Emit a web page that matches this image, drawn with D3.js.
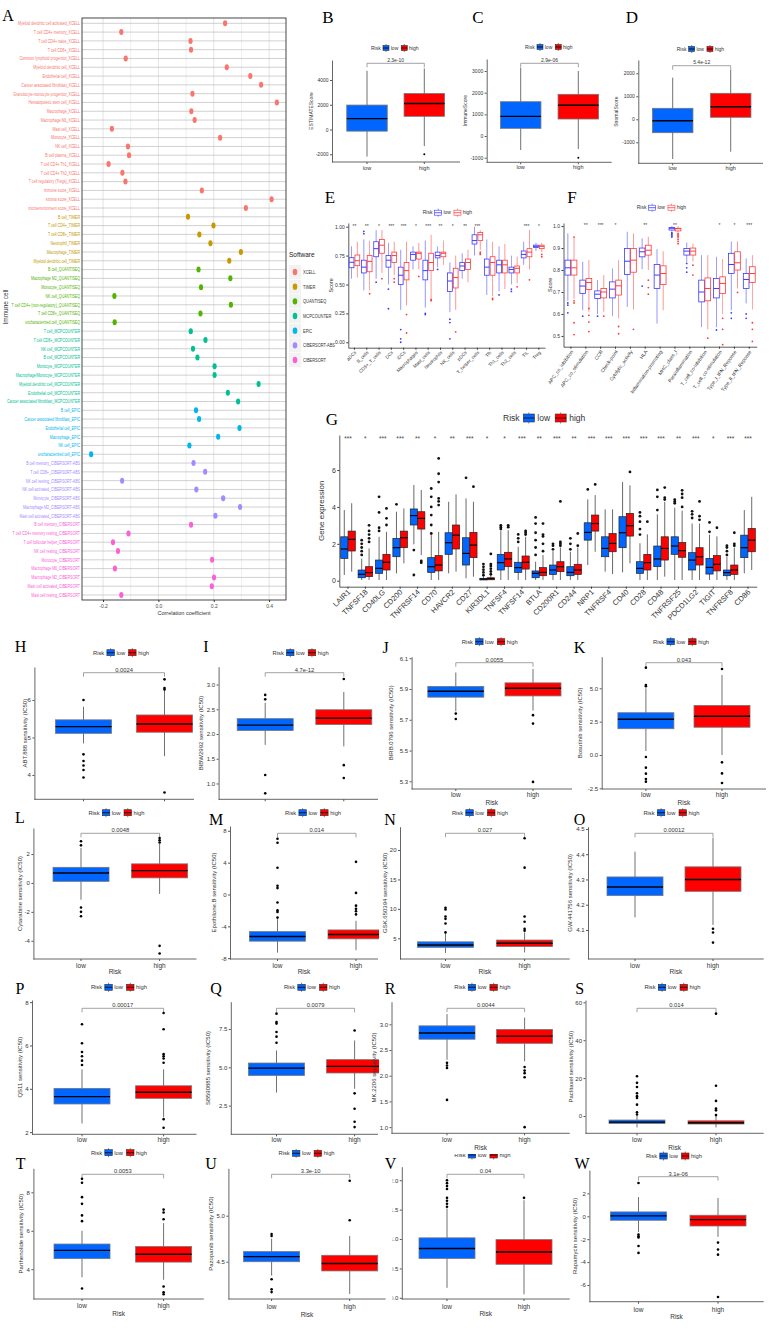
<!DOCTYPE html>
<html><head><meta charset="utf-8">
<script src="https://cdn.jsdelivr.net/npm/d3@7"></script>
<style>body{margin:0;background:#fff} svg{display:block;font-family:"Liberation Sans",Arial,sans-serif}</style>
</head><body><div id="chart"></div>
<script>
// ---------- panel A data ----------
const softwares = ["XCELL","TIMER","QUANTISEQ","MCPCOUNTER","EPIC","CIBERSORT-ABS","CIBERSORT"];
const softColors = ["#F8766D","#C49A00","#53B400","#00C094","#00B6EB","#A58AFF","#FB61D7"];
const cellNames = [
"Myeloid dendritic cell activated_XCELL","T cell CD4+ memory_XCELL","T cell CD4+ naive_XCELL","T cell CD8+_XCELL",
"Common lymphoid progenitor_XCELL","Myeloid dendritic cell_XCELL","Endothelial cell_XCELL","Cancer associated fibroblast_XCELL",
"Granulocyte-monocyte progenitor_XCELL","Hematopoietic stem cell_XCELL","Macrophage_XCELL","Macrophage M1_XCELL",
"Mast cell_XCELL","Monocyte_XCELL","NK cell_XCELL","B cell plasma_XCELL","T cell CD4+ Th1_XCELL","T cell CD4+ Th2_XCELL",
"T cell regulatory (Tregs)_XCELL","immune score_XCELL","stroma score_XCELL","microenvironment score_XCELL",
"B cell_TIMER","T cell CD4+_TIMER","T cell CD8+_TIMER","Neutrophil_TIMER","Macrophage_TIMER","Myeloid dendritic cell_TIMER",
"B cell_QUANTISEQ","Macrophage M2_QUANTISEQ","Monocyte_QUANTISEQ","NK cell_QUANTISEQ","T cell CD4+ (non-regulatory)_QUANTISEQ",
"T cell CD8+_QUANTISEQ","uncharacterized cell_QUANTISEQ",
"T cell_MCPCOUNTER","T cell CD8+_MCPCOUNTER","NK cell_MCPCOUNTER","B cell_MCPCOUNTER","Monocyte_MCPCOUNTER",
"Macrophage/Monocyte_MCPCOUNTER","Myeloid dendritic cell_MCPCOUNTER","Endothelial cell_MCPCOUNTER","Cancer associated fibroblast_MCPCOUNTER",
"B cell_EPIC","Cancer associated fibroblast_EPIC","Endothelial cell_EPIC","Macrophage_EPIC","NK cell_EPIC","uncharacterized cell_EPIC",
"B cell memory_CIBERSORT-ABS","T cell CD8+_CIBERSORT-ABS","NK cell resting_CIBERSORT-ABS","NK cell activated_CIBERSORT-ABS",
"Monocyte_CIBERSORT-ABS","Macrophage M2_CIBERSORT-ABS","Mast cell activated_CIBERSORT-ABS",
"B cell memory_CIBERSORT","T cell CD4+ memory resting_CIBERSORT","T cell follicular helper_CIBERSORT","NK cell resting_CIBERSORT",
"Monocyte_CIBERSORT","Macrophage M0_CIBERSORT","Macrophage M2_CIBERSORT","Mast cell activated_CIBERSORT","Mast cell resting_CIBERSORT"];
const cellCor = [0.241,-0.134,0.116,0.118,-0.118,0.247,0.332,0.371,0.123,0.428,0.119,0.131,-0.168,0.223,-0.110,-0.106,
-0.180,-0.130,-0.119,0.157,0.409,0.316,
0.107,0.199,0.148,0.188,0.298,0.256,
0.145,0.260,0.154,-0.159,0.262,0.152,-0.158,
0.117,0.170,0.125,0.141,0.203,0.203,0.362,0.251,0.288,
0.136,0.147,0.293,0.216,0.112,-0.243,
0.127,0.169,-0.131,0.137,0.234,0.295,0.206,
0.118,-0.108,-0.164,-0.146,0.194,-0.157,0.201,0.193,-0.134];
const corTicks = [-0.2,0,0.2,0.4];

// ---------- panels B-D ----------
const scoreTitles = ["ESTIMATEScore","ImmuneScore","StromalScore"];
const scoreP = ["2.3e-10","2.9e-06","5.4e-12"];
const scoreLow = [[-2184,-130,880,1976,4744],[-646,355,909,1583,3152],[-1726,-583,-61,478,1809]];
const scoreHigh = [[-1333,1067,2107,2907,4933],[-600,785,1417,1924,3000],[-1409,87,548,1130,2152]];
const scoreLowOut = [[],[],[]];
const scoreHighOut = [[-2000],[-1000],[]];
const scoreLimits = [[-2622,5615],[-1212,3554],[-1913,2578]];
const scoreTicks = [[-2000,0,2000,4000],[-1000,0,1000,2000,3000],[-1000,0,1000,2000]];

// ---------- panel E ----------
const eCats = ["aDCs","B_cells","CD8+_T_cells","DCs","iDCs","Macrophages","Mast_cells","Neutrophils","NK_cells","pDCs","T_helper_cells","Tfh","Th1_cells","Th2_cells","TIL","Treg"];
const eStars = ["**","**","*","***","***","*","***","**","*","**","***","","","","***","*"];
const eLow = [[0.55,0.645,0.692,0.732,0.83],[0.45,0.60,0.65,0.71,0.89],[0.55,0.74,0.81,0.87,0.97],[0.50,0.65,0.71,0.75,0.86],
[0.28,0.50,0.58,0.65,0.80],[0.63,0.71,0.76,0.78,0.83],[0.30,0.54,0.62,0.71,0.88],[0.65,0.73,0.75,0.78,0.83],
[0.26,0.44,0.53,0.60,0.69],[0.55,0.62,0.66,0.69,0.77],[0.75,0.85,0.88,0.93,1.00],[0.41,0.58,0.65,0.72,0.89],
[0.44,0.60,0.67,0.71,0.83],[0.50,0.60,0.63,0.65,0.75],[0.67,0.73,0.76,0.79,0.87],[0.79,0.82,0.83,0.84,0.86]];
const eLowOut = [[],[0.96,0.94],[0.52],[0.46,0.29],[0.11,0.03,0.0],[],[0.25,0.24],[0.63],[0.20,0.17,0.03],[],[],[],[0.41],[0.46,0.44],[],[]];
const eHigh = [[0.56,0.663,0.706,0.755,0.87],[0.45,0.61,0.70,0.75,0.88],[0.60,0.77,0.84,0.89,0.97],[0.58,0.69,0.75,0.78,0.87],
[0.32,0.54,0.62,0.69,0.87],[0.63,0.72,0.77,0.78,0.86],[0.38,0.62,0.69,0.77,0.93],[0.67,0.74,0.77,0.78,0.88],
[0.28,0.47,0.56,0.64,0.75],[0.52,0.63,0.69,0.72,0.80],[0.80,0.88,0.93,0.95,0.97],[0.40,0.58,0.69,0.74,0.87],
[0.46,0.60,0.67,0.71,0.85],[0.51,0.60,0.64,0.66,0.74],[0.63,0.74,0.78,0.81,0.97],[0.78,0.81,0.83,0.84,0.86]];
const eHighOut = [[],[0.42],[0.55],[0.55,0.52],[0.24,0.08],[0.57],[0.37,0.36],[],[0.09],[],[0.78,0.76,0.77],[0.38,0.37],[],[0.48],[0.54],[0.76,0.74]];

// ---------- panel F ----------
const fCats = ["APC_co_inhibition","APC_co_stimulation","CCR","Check-point","Cytolytic_activity","HLA","Inflammation-promoting","MHC_class_I","Parainflammation","T_cell_co-inhibition","T_cell_co-stimulation","Type_I_IFN_Reponse","Type_II_IFN_Reponse"];
const fStars = ["","**","***","*","","**","","**","","","*","*","***"];
const fLow = [[0.66,0.777,0.81,0.845,0.967],[0.617,0.693,0.727,0.754,0.837],[0.60,0.67,0.69,0.705,0.754],[0.59,0.673,0.713,0.746,0.807],
[0.632,0.78,0.84,0.898,0.974],[0.804,0.86,0.883,0.90,0.944],[0.556,0.716,0.777,0.825,0.895],[0.975,0.982,0.99,0.993,1.0],
[0.837,0.868,0.886,0.898,0.925],[0.54,0.655,0.70,0.754,0.868],[0.54,0.673,0.716,0.761,0.86],[0.617,0.784,0.825,0.876,0.93],
[0.648,0.716,0.757,0.784,0.853]];
const fLowOut = [[0.65,0.64,0.605],[0.59],[0.59],[],[],[0.727],[],[0.97,0.965,0.96,0.955,0.95],[0.83,0.81,0.79],[],[0.527],[0.605,0.58],[0.60,0.58]];
const fHigh = [[0.67,0.777,0.81,0.845,0.947],[0.61,0.711,0.743,0.761,0.845],[0.61,0.673,0.70,0.716,0.777],[0.58,0.686,0.728,0.754,0.845],
[0.62,0.79,0.845,0.898,0.967],[0.80,0.868,0.89,0.913,0.951],[0.617,0.734,0.784,0.819,0.885],[0.97,0.978,0.988,0.99,1.0],
[0.84,0.868,0.886,0.90,0.92],[0.53,0.66,0.716,0.764,0.868],[0.60,0.693,0.739,0.769,0.85],[0.716,0.80,0.833,0.883,0.93],
[0.62,0.743,0.784,0.815,0.868]];
const fHighOut = [[0.95,0.66,0.65,0.56,0.506],[0.625,0.594,0.563,0.52],[0.59],[0.543,0.51],[0.53],[0.754,0.72,0.69],[],[0.965,0.96,0.955,0.95,0.94,0.93,0.92],[0.822,0.777],[0.49],[0.58,0.53,0.46],[0.698],[0.56,0.53,0.475]];

// ---------- panel G ----------
const gCats = ["LAIR1","TNFSF18","CD40LG","CD200","TNFRSF14","CD70","HAVCR2","CD27","KIR3DL1","TNFSF4","TNFSF14","BTLA","CD200R1","CD244","NRP1","TNFRSF4","CD40","CD28","CD48","TNFRSF25","PDCD1LG2","TIGIT","TNFRSF8","CD86"];
const gStars = ["***","*","***","***","**","*","**","***","*","*","***","**","***","**","***","***","***","***","***","**","***","*","***","***"];
const gLow = [[0.31,1.21,1.72,2.38,3.83],[0.04,0.16,0.35,0.58,1.2],[0.04,0.40,0.67,1.12,2.38],[0.40,1.30,1.79,2.29,3.74],
[1.97,3.02,3.53,3.89,5.19],[0.04,0.45,0.76,1.25,2.47],[0.40,1.43,2.06,2.60,4.28],[0.13,0.85,1.48,2.33,4.46],
[0.04,0.04,0.09,0.13,0.25],[0.04,0.58,0.98,1.43,2.69],[0.04,0.45,0.71,1.00,1.84],[0.04,0.16,0.40,0.53,1.03],
[0.04,0.34,0.58,0.85,1.6],[0.04,0.27,0.45,0.76,1.57],[0.85,2.20,2.62,3.14,4.41],[0.49,1.30,1.75,2.38,3.87],
[0.45,1.79,2.60,3.47,5.35],[0.04,0.40,0.67,1.03,2.03],[0.04,0.76,1.18,1.88,3.60],[0.04,1.43,1.88,2.38,3.96],
[0.04,0.58,1.12,1.52,3.1],[0.04,0.36,0.72,1.21,2.5],[0.04,0.27,0.44,0.58,1.3],[0.40,1.25,1.79,2.47,3.83]];
const gLowOut = [[],[1.4,1.6,1.8,2.0,2.2],[2.7,2.87,3.7,4.55],[4.14],[1.66,0.31],[2.56,3.02,3.56,4.0,4.55,5.0],[],[5.58],
[0.3,0.45,0.6,0.75,0.9],[2.8,2.9,3.0],[2.1,2.3,2.51],[1.4,1.8,2.2,2.6,3.1,3.43],[1.7,1.9,2.0],[1.7,2.0,2.3],[4.95],[],[],
[2.5,2.8,3.2,3.5,3.7],[3.83,4.55,4.92],[4.2,4.3,4.4],[3.4,3.6,3.76],[2.65,3.16],[1.4,1.6,1.8,1.9],[]];
const gHigh = [[0.49,1.61,2.24,2.69,4.2],[0.04,0.22,0.44,0.76,1.75],[0.04,0.58,1.0,1.43,2.65],[0.94,1.79,2.33,2.69,3.92],
[1.39,2.80,3.38,3.74,4.92],[0.04,0.53,0.85,1.36,2.65],[0.49,1.72,2.47,3.02,4.68],[0.22,1.25,1.93,2.62,4.28],
[0.04,0.05,0.11,0.16,0.3],[0.04,0.76,1.18,1.54,2.74],[0.04,0.63,1.0,1.34,2.38],[0.04,0.27,0.45,0.71,1.39],
[0.04,0.49,0.76,1.03,1.8],[0.04,0.34,0.58,0.89,1.8],[1.57,2.69,3.10,3.56,4.64],[0.36,1.57,2.02,2.56,3.87],
[0.94,2.42,2.98,3.65,5.17],[0.04,0.58,0.98,1.43,2.51],[0.22,1.12,1.75,2.38,4.28],[0.04,1.27,1.63,2.07,3.8],
[0.04,0.85,1.30,1.79,3.1],[0.04,0.53,0.89,1.36,2.4],[0.04,0.34,0.58,0.85,1.8],[0.58,1.57,2.20,2.83,4.55]];
const gHighOut = [[],[2.1,2.3,2.5,2.7,3.0],[3.02,3.38,3.92],[],[1.07,0.98],[4.1,4.3,4.46,5.35,5.8,6.63],[],[5.1],
[0.35,0.5,0.65,0.8,0.9,1.45],[2.9,3.0],[2.5,2.6,2.7],[1.6,2.0,2.4,2.5,3.1],[1.9,2.0,2.1,4.3],[1.9,2.56],[5.22],[],[5.9],[3.2],
[4.4,4.5,5.05],[4.0,4.5,4.7,4.9],[3.3,3.5,4.3],[2.87],[1.9,2.0,2.6],[]];

// ---------- panels H-W (drug sensitivity) ----------
const drugTitles = ["ABT.888","BIBW2992","BIRB.0796","Bosutinib","Cytarabine","Epothilone.B","GSK.650394","GW.441756",
"QS11","SB590885","MK.2206","Paclitaxel","Parthenolide","Pazopanib","","Rapamycin"];
const drugP = ["0.0024","4.7e-12","0.0055","0.043","0.0048","0.014","0.027","0.00012","0.00017","0.0079","0.0044","0.014","0.0053","3.3e-10","0.04","3.1e-06"];
const drugLow = [[4.84,5.11,5.29,5.47,5.82],[1.78,2.07,2.18,2.31,2.63],[5.755,5.847,5.885,5.917,6.007],[0.3,1.97,2.68,3.17,5.0],
[-1.16,0.11,0.69,1.08,2.42],[-7.3,-5.86,-5.28,-4.66,-3.1],[2.5,3.46,3.86,4.4,5.85],[4.15,4.236,4.27,4.31,4.41],
[2.4,3.3,3.64,4.02,4.9],[3.35,4.47,4.95,5.28,6.1],[2.31,2.71,2.83,2.97,3.2],[-6,-3.9,-3.2,-2.1,0],
[3.58,4.55,4.98,5.31,6.0],[4.35,4.5,4.555,4.61,4.75],[0.17,0.67,0.84,1.02,1.52],[-1.37,-0.35,0.03,0.38,1.68]];
const drugLowOut = [[6.0,4.55,4.37,4.25,4.13,3.93],[2.79,2.70,1.17,0.8],[5.74,5.705],[6.55,5.25,5.15,-0.15,-0.95,-1.4,-1.8,-2.0],
[2.88,2.6,-1.7,-2.0,-2.3],[7.0,6.5,3.35,1.1,0.8,-1.0,-2.0,-2.2,-2.9],[10.2,9.9,8.7,8.3,7.5,6.0],[],
[6.98,6.1,5.7,5.5,5.3,5.1],[8.5,7.95,7.85,7.3,7.0,6.6],[2.25,2.2,2.15,1.53],[21,17.5,15.3,12,10.5,9.5,6,2,0.8],
[8.7,8.5,7.75,7.4,6.8,6.5,3.0],[4.8,4.78,4.31,4.2,4.17],[2.0,1.95,1.9,1.85,1.7,1.65,1.6,1.55],[2.9,-1.6,-1.75,-1.85,-2.6,-3.2]];
const drugHigh = [[4.5,5.14,5.36,5.6,6.3],[1.75,2.19,2.32,2.49,2.85],[5.76,5.855,5.905,5.94,6.03],[0.0,2.08,2.9,3.72,6.0],
[-0.76,0.35,0.85,1.32,2.7],[-7.0,-5.57,-5.03,-4.45,-3.3],[2.6,3.6,4.15,4.7,6.0],[4.12,4.253,4.30,4.35,4.465],
[2.7,3.56,3.84,4.14,4.9],[3.6,4.63,5.06,5.5,6.75],[2.28,2.63,2.77,2.9,3.13],[-6,-4.2,-3.5,-2.5,0],
[3.45,4.37,4.78,5.18,6.4],[4.15,4.4,4.48,4.57,4.78],[0.06,0.57,0.78,0.99,1.66],[-1.8,-0.85,-0.29,0.09,1.6]];
const drugHighOut = [[6.55,6.32,6.28,3.53],[3.11,1.37,1.11],[5.73,5.675,5.296],[6.45,-0.55,-1.38,-2.1],
[3.1,2.95,2.8,-4.35,-4.88],[4.1,0.2,-1.4,-1.8,-2.1,-2.5],[22,17,8.7,7.8,6.6,6.3],[4.105,4.09,4.05],
[7.5,6.75,5.6,5.5,5.4,5.2,2.6,2.2],[7.4,3.3,2.3,1.45,1.1],[2.17,2.1,2.05,1.97,1.0],[54,16,8,4,3,0.5],
[7.1,6.95,6.6,3.1,2.8,2.7],[5.38,4.95],[1.7],[-2.3,-2.9,-3.35,-7.05]];
const drugLimits = [[3.35,6.88],[0.68,3.36],[5.25,6.11],[-2.55,7.37],[-5.26,3.8],[-8.1,8.6],[1.48,23.96],[3.985,4.509],
[1.9,8.1],[0.63,9.28],[0.88,3.44],[-9.1,61.2],[2.45,9.25],[4.095,5.515],[-0.02,2.23],[-7.46,4.04]];
const drugTicks = [[4,5,6],[1.0,1.5,2.0,2.5,3.0],[5.3,5.5,5.7,5.9,6.1],[-2.5,0,2.5,5.0],[-4,-2,0,2],[-8,-4,0,4,8],[5,10,15,20],
[4.1,4.2,4.3,4.4,4.5],[2,4,6,8],[2.5,5.0,7.5],[1.0,1.5,2.0,2.5,3.0],[0,20,40,60],[4,6,8],[4.5,5.0],[0,0.5,1.0,1.5,2.0],[-6,-4,-2,0,2]];

// layout: letter, letterX, letterY, legendX, legendY, axisX, right, top, bottom, lowX, highX, titleX, bracketY, xlabY, riskY
const scoreLayout = [
 ["B",328,17.5,371,48,332,460,60,162,367,424.3,311.7,63.3,167.7,null],
 ["C",478,17.5,525,47,486.7,611.7,59,162.3,520.7,578.3,465,63.3,167,null],
 ["D",632,17.5,676.7,49,638.3,763,60,163.3,672.7,730.7,616.7,65.7,168.3,null]];
const drugLayout = [
 ["H",20.6,646,93,652.7,34.4,194,667,799.3,83.5,164.5,24.6,672.7,null,null],
 ["I",206,646,272.6,652.7,218.6,378,666.7,799.3,265.2,343.8,201.4,672.7,null,null],
 ["J",385.6,647,461.7,641.7,411.6,572,656.7,789,455.8,533,390.5,662.7,794.3,802.3],
 ["K",579.6,647,653,641.7,601.7,766,656.7,789,645.9,722,579.6,662.7,794.3,802.3],
 ["L",20,817,88.4,812.7,33.4,196.5,828,959,81,159.6,19.6,833.3,965.7,971.7],
 ["M",216,819,285,812.7,230,378,826,959,277.5,356,213.7,833.3,965.7,971.7],
 ["N",390,819,451.9,812.7,400,569.7,826.7,959,445.5,524.6,385,833.3,965.7,971.7],
 ["O",579.6,819,643.4,812.7,588,763.7,826.7,959,635,713,570,833.3,965.7,971.7],
 ["P",20,988,90.9,987.3,32,196.5,1000,1134.3,82,163.6,19.6,1008.3,1140,null],
 ["Q",216,988,283.9,987.3,230.8,378,1001.7,1134.3,276.5,354.6,207.8,1008.3,1140,null],
 ["R",390,988,454.3,987.3,391.5,569.7,1001.7,1133.3,447,524.6,374,1008.3,1140,1147.3],
 ["S",579.6,988,644.4,987.3,585.5,763.7,1000,1133.3,637,716,571,1008.3,1140,1147.3],
 ["T",20.6,1163,90.9,1152.7,33.4,203.8,1168.3,1299,82,163.6,20.6,1174.3,1305.7,1313.3],
 ["U",211,1163,278.5,1153.3,228.4,385.6,1168.3,1299,271.6,349.7,211,1174.3,1306.7,1314.3],
 ["V",390.5,1163,454.3,1155,401.8,569.7,1166.7,1299,447,524,null,1174.3,1306.7,1314],
 ["W",582,1163,645.9,1156,589.4,763.7,1170,1301.7,638.5,718,574.7,1176.7,1310,1316.7]];

const LOW = "#0066FF", HIGH = "#FF0000";
const LOW_LINE = "#3B3BFF", HIGH_LINE = "#FF3B3B";

const svg = d3.select("#chart").append("svg").attr("width",769).attr("height",1329);
svg.append("rect").attr("width",769).attr("height",1329).attr("fill","#fff");
const defs = svg.append("defs");
let clipId = 0;
function clip(x, y, w, h) {
  const id = "clip" + (clipId++);
  defs.append("clipPath").attr("id", id).append("rect").attr("x",x).attr("y",y).attr("width",w).attr("height",h);
  return `url(#${id})`;
}

function txt(g, x, y, s, fs, o = {}) {
  const t = g.append("text").attr("x",x).attr("y",y).attr("dy","0.35em").attr("font-size",fs)
    .attr("fill",o.fill || "#333").attr("text-anchor",o.anchor || "start").text(s);
  if (o.rot) t.attr("transform",`rotate(${o.rot},${x},${y})`);
  if (o.family) t.attr("font-family",o.family);
  return t;
}
function letter(x, y, s, fs) { txt(svg, x, y, s, fs || 16, {anchor:"middle", fill:"#000", family:"'Liberation Serif','DejaVu Serif',serif"}); }

function legendKey(g, x, y, w, h, col, mode) {
  const fill = mode === "fill";
  g.append("line").attr("x1",x+w/2).attr("x2",x+w/2).attr("y1",y-h/2-1.5).attr("y2",y+h/2+1.5)
    .attr("stroke",fill ? "#333" : col).attr("stroke-width",0.6);
  g.append("rect").attr("x",x).attr("y",y-h/2).attr("width",w).attr("height",h)
    .attr("fill",fill ? col : "#fff").attr("stroke",fill ? "#333" : col).attr("stroke-width",0.6);
  g.append("line").attr("x1",x).attr("x2",x+w).attr("y1",y).attr("y2",y)
    .attr("stroke",fill ? "#000" : col).attr("stroke-width",0.8);
}
function riskLegend(g, x, y, fs, kw, kh, mode) {
  let cx = x;
  const t = txt(g, cx, y, "Risk", fs);
  cx += t.node().getComputedTextLength() + fs * 0.45;
  [["low", LOW, LOW_LINE], ["high", HIGH, HIGH_LINE]].forEach(([n, c, cl]) => {
    legendKey(g, cx, y, kw, kh, mode === "fill" ? c : cl, mode);
    cx += kw + fs * 0.35;
    const tt = txt(g, cx, y, n, fs);
    cx += tt.node().getComputedTextLength() + fs * 0.6;
  });
}
function drawBox(g, xc, w, s, y, st) {
  g.append("line").attr("x1",xc).attr("x2",xc).attr("y1",y(s[0])).attr("y2",y(s[4]))
    .attr("stroke",st.whisker).attr("stroke-width",st.ww).attr("opacity",st.wo || 1);
  g.append("rect").attr("x",xc-w/2).attr("y",y(s[3])).attr("width",w).attr("height",Math.max(0.6,y(s[1])-y(s[3])))
    .attr("fill",st.fill).attr("stroke",st.stroke).attr("stroke-width",st.sw);
  g.append("line").attr("x1",xc-w/2).attr("x2",xc+w/2).attr("y1",y(s[2])).attr("y2",y(s[2]))
    .attr("stroke",st.median).attr("stroke-width",st.mw);
}
function dots(g, xc, vals, y, r, col) {
  g.append("g").selectAll("circle").data(vals).join("circle")
    .attr("cx",xc).attr("cy",d => y(d)).attr("r",r).attr("fill",col);
}

// ================= Panel A =================
const colorOf = name => softColors[softwares.indexOf(name.split("_").pop())];
const gA = svg.append("g");
const xA = d3.scaleLinear().domain([-0.276,0.461]).range([82,286]);
const yA = d3.scalePoint().domain(d3.range(cellNames.length)).range([23.3,595]);
gA.selectAll(".vg").data(d3.range(-2,5).map(d => d/10)).join("line")
  .attr("x1",d => xA(d)).attr("x2",d => xA(d)).attr("y1",18).attr("y2",600)
  .attr("stroke",(d,i) => i % 2 === 0 ? "#D0D0D0" : "#E4E4E4").attr("stroke-width",0.6);
gA.selectAll(".hg").data(d3.range(cellNames.length)).join("line")
  .attr("x1",82).attr("x2",286).attr("y1",i => yA(i)).attr("y2",i => yA(i))
  .attr("stroke","#BDBDBD").attr("stroke-width",0.7);
gA.append("rect").attr("x",82).attr("y",18).attr("width",204).attr("height",582)
  .attr("fill","none").attr("stroke","#333").attr("stroke-width",0.9);
gA.selectAll("ellipse").data(cellCor).join("ellipse")
  .attr("cx",d => xA(d)).attr("cy",(d,i) => yA(i)).attr("rx",2.1).attr("ry",3)
  .attr("fill",(d,i) => colorOf(cellNames[i]));
const labA = gA.append("g").attr("transform","translate(80,0) scale(0.68,1)");
labA.selectAll("text").data(cellNames).join("text")
  .attr("x",0).attr("y",(d,i) => yA(i)).attr("dy","0.35em").attr("text-anchor","end")
  .attr("font-size",5.3).attr("fill",d => colorOf(d)).text(d => d);
const axA = gA.append("g").attr("transform","translate(0,600)")
  .call(d3.axisBottom(xA).tickValues(corTicks).tickFormat(d => d.toFixed(1)).tickSize(2).tickSizeOuter(0));
axA.attr("font-family",null).attr("font-size",5);
axA.select(".domain").remove();
axA.selectAll(".tick line").attr("stroke","#333");
axA.selectAll(".tick text").attr("fill","#4D4D4D").attr("y",4);
txt(gA, 184, 613.5, "Correlation coefficient", 5.5, {anchor:"middle"});
txt(gA, 6, 307, "Immune cell", 6.5, {anchor:"middle", rot:-90});
letter(8, 15.5, "A", 16);

// software legend
const gSL = svg.append("g");
const yS = d3.scalePoint().domain(softwares).range([272,360]);
txt(gSL, 289, 255, "Software", 6.5, {fill:"#222"});
gSL.selectAll("rect").data(softwares).join("rect")
  .attr("x",289).attr("y",d => yS(d)-7).attr("width",12).attr("height",14).attr("fill","#F2F2F2");
gSL.selectAll("ellipse").data(softwares).join("ellipse")
  .attr("cx",295).attr("cy",d => yS(d)).attr("rx",2.3).attr("ry",3.2).attr("fill",(d,i) => softColors[i]);
const slText = gSL.append("g").attr("transform","translate(303,0) scale(0.72,1)");
slText.selectAll("text").data(softwares).join("text")
  .attr("x",0).attr("y",d => yS(d)).attr("dy","0.35em").attr("font-size",5.5).attr("fill","#333").text(d => d);

// ================= Risk box panels (B-D, H-W) =================
function riskPanel(lay, st, low, high, lowOut, highOut, lim, ticks, title, pval, bw, clipAll) {
  const [L, lx, ly, legX, legY, ax, right, top, bottom, cLow, cHigh, titleX, pY, xlabY, riskY] = lay;
  letter(lx, ly, L, st.letter);
  const g = svg.append("g");
  if (clipAll) g.attr("clip-path", clip(...clipAll));
  const y = d3.scaleLinear().domain(lim).range([bottom, top]);
  const x = d3.scalePoint().domain(["low","high"]).range([cLow, cHigh]);
  const digits = ticks.some(t => !Number.isInteger(t)) ? 1 : 0;
  riskLegend(g, legX, legY, st.leg, st.kw, st.kh, "fill");
  const ya = g.append("g").attr("transform",`translate(${ax},0)`)
    .call(d3.axisLeft(y).tickValues(ticks).tickFormat(t => t.toFixed(digits)).tickSize(2).tickSizeOuter(0));
  ya.attr("font-family",null).attr("font-size",st.tick);
  ya.select(".domain").attr("stroke","#555").attr("stroke-width",0.9);
  ya.selectAll(".tick line").attr("stroke","#555");
  ya.selectAll(".tick text").attr("fill","#333").attr("x",-3.5);
  g.append("line").attr("x1",ax).attr("x2",right).attr("y1",bottom).attr("y2",bottom).attr("stroke","#555").attr("stroke-width",0.9);
  g.selectAll(".xt").data(x.domain()).join("line").attr("x1",d => x(d)).attr("x2",d => x(d))
    .attr("y1",bottom).attr("y2",bottom+2).attr("stroke","#555");
  if (xlabY) x.domain().forEach(d => txt(g, x(d), xlabY, d, st.xlab, {anchor:"middle"}));
  if (riskY) txt(g, (ax+right)/2, riskY, "Risk", st.xlab, {anchor:"middle"});
  if (titleX !== null && title) txt(g, titleX, (top+bottom)/2, title, st.title, {anchor:"middle", rot:-90});
  // p-value bracket
  g.append("path").attr("d",`M${cLow},${pY+4}V${pY}H${cHigh}V${pY+4}`)
    .attr("fill","none").attr("stroke","#8A8A8A").attr("stroke-width",0.8);
  txt(g, (cLow+cHigh)/2, pY-3.2, pval, st.p, {anchor:"middle"});
  const m = g.append("g").attr("clip-path", clip(ax, top-8, right-ax+1, bottom-top+8));
  const bs = {whisker:"#333", ww:0.7, stroke:"#777", sw:0.8, median:"#000", mw:1.4};
  drawBox(m, x("low"), bw, low, y, {...bs, fill:LOW});
  drawBox(m, x("high"), bw, high, y, {...bs, fill:HIGH});
  dots(m, x("low"), lowOut, y, st.dot, "#000");
  dots(m, x("high"), highOut, y, st.dot, "#000");
}

const scoreStyle = {letter:17, leg:5, kw:6, kh:5, tick:5, title:5, xlab:5.5, p:5, dot:1};
scoreLayout.forEach((lay, i) => riskPanel(lay, scoreStyle, scoreLow[i], scoreHigh[i], scoreLowOut[i], scoreHighOut[i],
  scoreLimits[i], scoreTicks[i], scoreTitles[i], scoreP[i], 40.5));

const drugStyle = {letter:16, leg:5.8, kw:7.5, kh:6, tick:6, title:6, xlab:6.5, p:5.8, dot:1.3};
drugLayout.forEach((lay, i) => riskPanel(lay, drugStyle, drugLow[i], drugHigh[i], drugLowOut[i], drugHighOut[i],
  drugLimits[i], drugTicks[i], drugTitles[i] ? drugTitles[i] + " sensitivity (IC50)" : "", drugP[i], 56,
  lay[0] === "V" ? [392.5, 1154, 380, 180] : null));

// ================= grouped panels E, F, G =================
function groupedPanel(c) {
  const g = svg.append("g");
  const x = d3.scaleBand().domain(c.cats).range([c.left, c.right]);
  const y = d3.scaleLinear().domain(c.domain).range([c.bottom, c.top]);
  const ya = g.append("g").attr("transform",`translate(${c.left},0)`)
    .call(d3.axisLeft(y).tickValues(c.ticks).tickFormat(c.fmt).tickSize(2).tickSizeOuter(0));
  ya.attr("font-family",null).attr("font-size",c.fsTick);
  ya.select(".domain").attr("stroke","#333").attr("stroke-width",0.8);
  ya.selectAll(".tick line").attr("stroke","#333");
  ya.selectAll(".tick text").attr("fill","#333").attr("x",-3.5);
  const xa = g.append("g").attr("transform",`translate(0,${c.bottom})`)
    .call(d3.axisBottom(x).tickSize(2).tickSizeOuter(0));
  xa.attr("font-family",null).attr("font-size",c.fsCat);
  xa.select(".domain").attr("stroke","#333").attr("stroke-width",0.8);
  xa.selectAll(".tick line").attr("stroke","#333");
  xa.selectAll(".tick text").attr("x",0).attr("y",0).attr("dy","0.35em").attr("fill","#333")
    .attr("text-anchor","end").attr("transform",`translate(1,${c.labOff}) rotate(-${c.angle})`);
  txt(g, c.titleX, (c.top+c.bottom)/2, c.title, c.fsTitle, {anchor:"middle", rot:-90});
  c.cats.forEach((cat, i) => {
    const xc = x(cat) + x.bandwidth()/2;
    if (c.stars[i]) txt(g, xc, c.starY, c.stars[i], c.fsStar, {anchor:"middle", fill:"#444"});
    if (c.mode === "outline") {
      drawBox(g, xc - c.off, c.bw, c.low[i], y, {whisker:LOW_LINE, ww:0.7, wo:0.75, fill:"#fff", stroke:LOW_LINE, sw:0.8, median:LOW_LINE, mw:1});
      drawBox(g, xc + c.off, c.bw, c.high[i], y, {whisker:HIGH_LINE, ww:0.7, wo:0.75, fill:"#fff", stroke:HIGH_LINE, sw:0.8, median:HIGH_LINE, mw:1});
      dots(g, xc - c.off, c.lowOut[i], y, c.dot, LOW_LINE);
      dots(g, xc + c.off, c.highOut[i], y, c.dot, HIGH_LINE);
    } else {
      const bs = {whisker:"#444", ww:0.8, stroke:"#222", sw:0.7, median:"#000", mw:1.2};
      drawBox(g, xc - c.off, c.bw, c.low[i], y, {...bs, fill:LOW});
      drawBox(g, xc + c.off, c.bw, c.high[i], y, {...bs, fill:HIGH});
      dots(g, xc - c.off, c.lowOut[i], y, c.dot, "#111");
      dots(g, xc + c.off, c.highOut[i], y, c.dot, "#111");
    }
  });
  riskLegend(g, c.legX, c.legY, c.fsLeg, c.kw, c.kh, c.mode);
}

letter(330, 197.5, "E", 17);
groupedPanel({cats:eCats, stars:eStars, low:eLow, high:eHigh, lowOut:eLowOut, highOut:eHighOut,
  left:348.3, right:545, top:223, bottom:347.7, domain:[-0.047,1.032], ticks:[0,0.25,0.5,0.75,1.0], fmt:d3.format(".2f"),
  fsTick:5, fsCat:4.6, angle:45, labOff:4, fsTitle:5.5, title:"Score", titleX:331,
  starY:226.5, fsStar:5, mode:"outline", bw:4.8, off:2.9, dot:0.9, legX:422.7, legY:212.7, fsLeg:5, kw:7, kh:5});

letter(572, 197, "F", 17);
groupedPanel({cats:fCats, stars:fStars, low:fLow, high:fHigh, lowOut:fLowOut, highOut:fHighOut,
  left:563.5, right:756.7, top:223, bottom:346.7, domain:[0.451,1.014], ticks:[0.5,0.6,0.7,0.8,0.9,1.0], fmt:d3.format(".1f"),
  fsTick:5, fsCat:4.9, angle:55, labOff:4, fsTitle:5.5, title:"Score", titleX:550,
  starY:225, fsStar:5, mode:"outline", bw:5.7, off:3.1, dot:0.9, legX:636.7, legY:207.7, fsLeg:5, kw:7, kh:5});

letter(332, 419, "G", 17);
groupedPanel({cats:gCats, stars:gStars, low:gLow, high:gHigh, lowOut:gLowOut, highOut:gHighOut,
  left:339.3, right:756.7, top:435, bottom:586.7, domain:[-0.325,7.9], ticks:[0,2,4,6], fmt:d3.format("d"),
  fsTick:7, fsCat:7.5, angle:45, labOff:4, fsTitle:8, title:"Gene expression", titleX:321.7,
  starY:438.5, fsStar:6.5, mode:"fill", bw:7.2, off:3.7, dot:1.4, legX:503, legY:418, fsLeg:8.5, kw:11, kh:8});
</script></body></html>
